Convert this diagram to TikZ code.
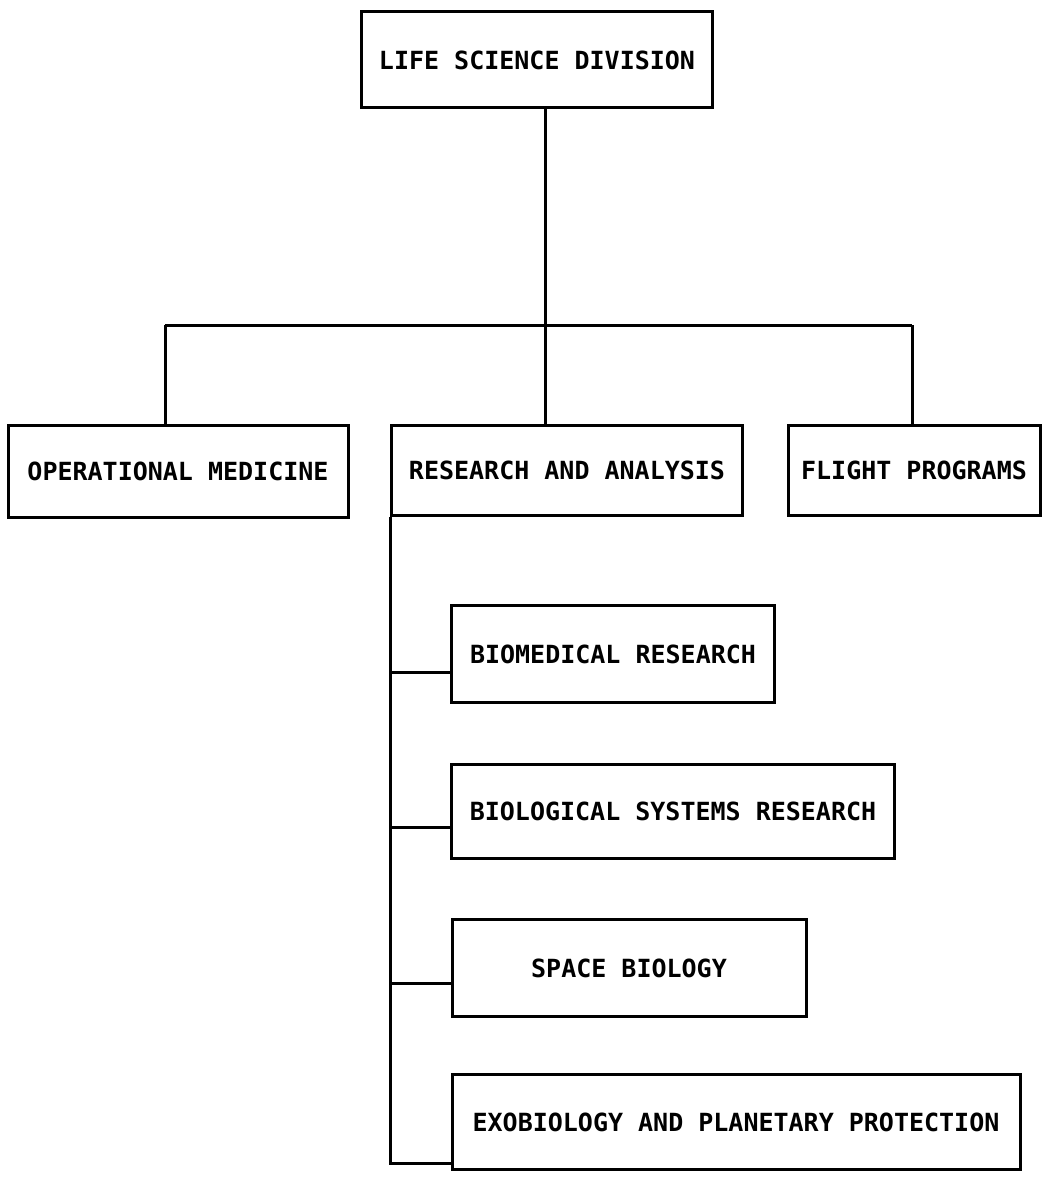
\documentclass[tikz,border=0pt]{standalone}
\usepackage{fontspec}
\newfontfamily\chartfont{DejaVu Sans Mono}
\usetikzlibrary{positioning}
\tikzset{unit/.style={draw, line width=1.5pt, inner sep=0pt, font=\chartfont\bfseries\fontsize{12.5}{14}\selectfont}}
\tikzset{link/.style={draw, line width=1.5pt}}

\begin{document}
\begin{tikzpicture}[x=0.5pt, y=-0.5pt]
\useasboundingbox (0,0) rectangle (1048,1177);
\node (L) [unit, minimum width=175.5pt, minimum height=48pt] at (537,60) {LIFE SCIENCE DIVISION};
\node (O) [unit, minimum width=170pt, minimum height=46pt] at (178,471) {OPERATIONAL MEDICINE};
\node (R) [unit, minimum width=175.5pt, minimum height=45pt] at (567,470) {RESEARCH AND ANALYSIS};
\node (F) [unit, minimum width=126pt, minimum height=45pt] at (914,470) {FLIGHT PROGRAMS};
\node (B1) [unit, minimum width=161.5pt, minimum height=48.5pt] at (613,654) {BIOMEDICAL RESEARCH};
\node (B2) [unit, minimum width=221.5pt, minimum height=47pt] at (673,811) {BIOLOGICAL SYSTEMS RESEARCH};
\node (B3) [unit, minimum width=177pt, minimum height=48.5pt] at (629,968) {SPACE BIOLOGY};
\node (E) [unit, minimum width=284pt, minimum height=47.5pt] at (736,1122) {EXOBIOLOGY AND PLANETARY PROTECTION};
% top bus
\coordinate (top) at (545,325);
\coordinate (busL) at (165,325);
\coordinate (busR) at (912,325);
\path [link] (L.south -| top) -- (top);
\path [link] (busL) -- (busR);
\path [link] (busL) -- (busL |- O.north);
\path [link] (top) -- (top |- R.north);
\path [link] (busR) -- (busR |- F.north);
% research branches
\coordinate (spine) at (R.south west |- 0,1163);
\path [link] (R.south west) -- (spine) -- (spine -| E.west);
\foreach \n/\y in {B1/672, B2/827, B3/983}
  \path [link] (spine |- 0,\y) -- (\n.west |- 0,\y);
\end{tikzpicture}
\end{document}
